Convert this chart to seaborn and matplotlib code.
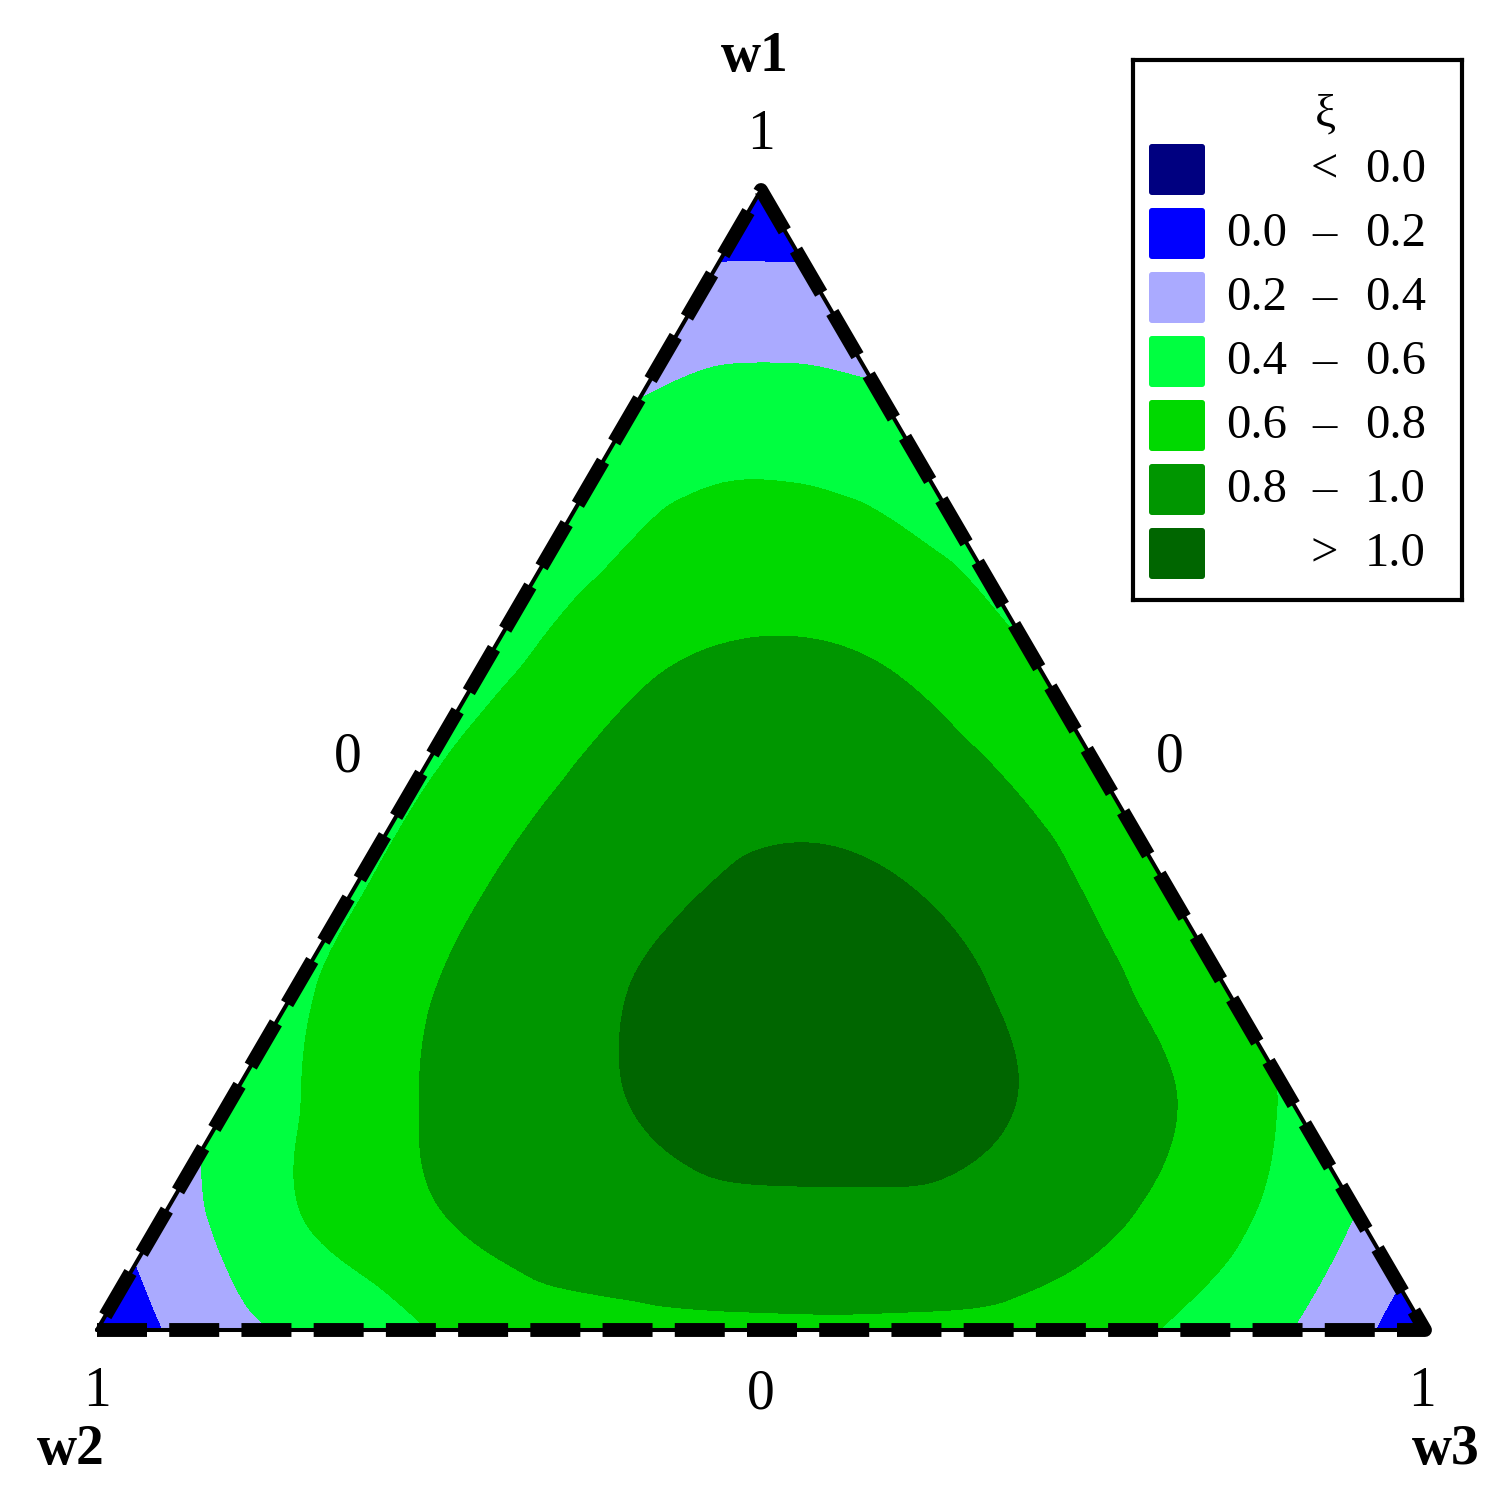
import numpy as np
import matplotlib
matplotlib.use("Agg")
import matplotlib.pyplot as plt
import matplotlib.tri as mtri
from matplotlib.patches import FancyBboxPatch
import seaborn as sns

sns.set_style("white")
plt.rcParams['font.family'] = ['Liberation Serif', 'DejaVu Serif']
plt.rcParams['text.color'] = 'black'

# xi on a 0.1 grid, one list per w1 level,
# going from w3 = 0 (left edge) to the right edge
xi_w1_00 = [0.05, 0.34, 0.50, 0.69, 0.75, 0.77, 0.77, 0.74, 0.60, 0.40, 0.07]
xi_w1_01 = [0.30, 0.59, 0.78, 0.90, 0.95, 0.96, 0.95, 0.85, 0.65, 0.39]
xi_w1_02 = [0.46, 0.71, 0.90, 1.00, 1.08, 1.08, 0.99, 0.83, 0.57]
xi_w1_03 = [0.565, 0.79, 0.93, 1.06, 1.12, 1.03, 0.86, 0.63]
xi_w1_04 = [0.58, 0.80, 0.92, 1.02, 1.00, 0.87, 0.65]
xi_w1_05 = [0.575, 0.78, 0.90, 0.92, 0.83, 0.66]
xi_w1_06 = [0.53, 0.74, 0.81, 0.77, 0.60]
xi_w1_07 = [0.48, 0.66, 0.66, 0.55]
xi_w1_08 = [0.42, 0.50, 0.45]
xi_w1_09 = [0.28, 0.28]
xi_w1_10 = [0.05]
xi_rows = [xi_w1_00, xi_w1_01, xi_w1_02, xi_w1_03, xi_w1_04, xi_w1_05,
           xi_w1_06, xi_w1_07, xi_w1_08, xi_w1_09, xi_w1_10]

levels = [-10, 0.0, 0.2, 0.4, 0.6, 0.8, 1.0, 10]
colors = ['#000080', '#0000ff', '#aaaaff', '#00ff40', '#00d900', '#009600', '#006600']
legend_low = ['', '0.0', '0.2', '0.4', '0.6', '0.8', '']
legend_mid = ['<', '\u2013', '\u2013', '\u2013', '\u2013', '\u2013', '>']
legend_high = ['0.0', '0.2', '0.4', '0.6', '0.8', '1.0', '1.0']

H = np.sqrt(3) / 2


def to_xy(w1, w3):
    # ternary -> cartesian, w2 at bottom left, w3 bottom right, w1 on top
    return w3 + 0.5 * w1, H * w1


# build the point cloud
px, py, pz = [], [], []
for k, row in enumerate(xi_rows):
    w1 = k / 10
    for m, v in enumerate(row):
        x, y = to_xy(w1, m / 10)
        px.append(x)
        py.append(y)
        pz.append(v)
px, py, pz = np.array(px), np.array(py), np.array(pz)

tri = mtri.Triangulation(px, py)
interp = mtri.CubicTriInterpolator(tri, pz, kind='geom')
refiner = mtri.UniformTriRefiner(tri)
tri_fine, z_fine = refiner.refine_field(pz, triinterpolator=interp, subdiv=4)

W, Hpx = 1501, 1487
fig = plt.figure(figsize=(W / 100, Hpx / 100), dpi=100)
ax = fig.add_axes([97 / W, (Hpx - 1330) / Hpx, 1328 / W, 1140 / Hpx])
ax.tricontourf(tri_fine, z_fine, levels=levels, colors=colors)
ax.set_xlim(0, 1)
ax.set_ylim(0, H)
ax.axis('off')

# triangle frame: thin solid line with a heavy dashed line on top
frame_x = [0, 1, 0.5, 0]
frame_y = [0, 0, H, 0]
ax.plot(frame_x, frame_y, color='black', lw=2.9, clip_on=False, zorder=5)
ax.plot(frame_x, frame_y, color='black', lw=10, dashes=(3.6, 1.6),
        solid_capstyle='butt', clip_on=False, zorder=6)

# corner / edge labels
fs = 40
ax.text(0.5, H + 0.042, '1', ha='center', va='center', fontsize=fs)
ax.text(0.495, H + 0.101, 'w1', ha='center', va='center', fontsize=fs, fontweight='bold')
ax.text(0.0, -0.047, '1', ha='center', va='center', fontsize=fs)
ax.text(-0.02, -0.091, 'w2', ha='center', va='center', fontsize=fs, fontweight='bold')
ax.text(0.998, -0.047, '1', ha='center', va='center', fontsize=fs)
ax.text(1.016, -0.091, 'w3', ha='center', va='center', fontsize=fs, fontweight='bold')
ax.text(0.5, -0.049, '0', ha='center', va='center', fontsize=fs)
ax.text(0.189, 0.435, '0', ha='center', va='center', fontsize=fs)
ax.text(0.808, 0.435, '0', ha='center', va='center', fontsize=fs)

# legend box drawn in its own pixel-space axes
lx0, ly0, lw, lh = 1133, 60, 329, 540
lax = fig.add_axes([lx0 / W, (Hpx - ly0 - lh) / Hpx, lw / W, lh / Hpx])
lax.set_xlim(0, lw)
lax.set_ylim(lh, 0)
lax.set_xticks([])
lax.set_yticks([])
for s in lax.spines.values():
    s.set_linewidth(3)
    s.set_color('black')
lax.text(192, 55, '\u03be', ha='center', va='center', fontsize=34)
lfs = 35
for i, c in enumerate(colors):
    yc = 110 + 64 * i
    lax.add_patch(FancyBboxPatch((16, yc - 26), 56, 51,
                                 boxstyle='round,pad=0,rounding_size=3',
                                 fc=c, ec='none'))
    lax.text(154, yc, legend_low[i], ha='right', va='center', fontsize=lfs)
    lax.text(191, yc, legend_mid[i], ha='center', va='center', fontsize=lfs)
    lax.text(293, yc, legend_high[i], ha='right', va='center', fontsize=lfs)

fig.savefig('out.png', dpi=100)
